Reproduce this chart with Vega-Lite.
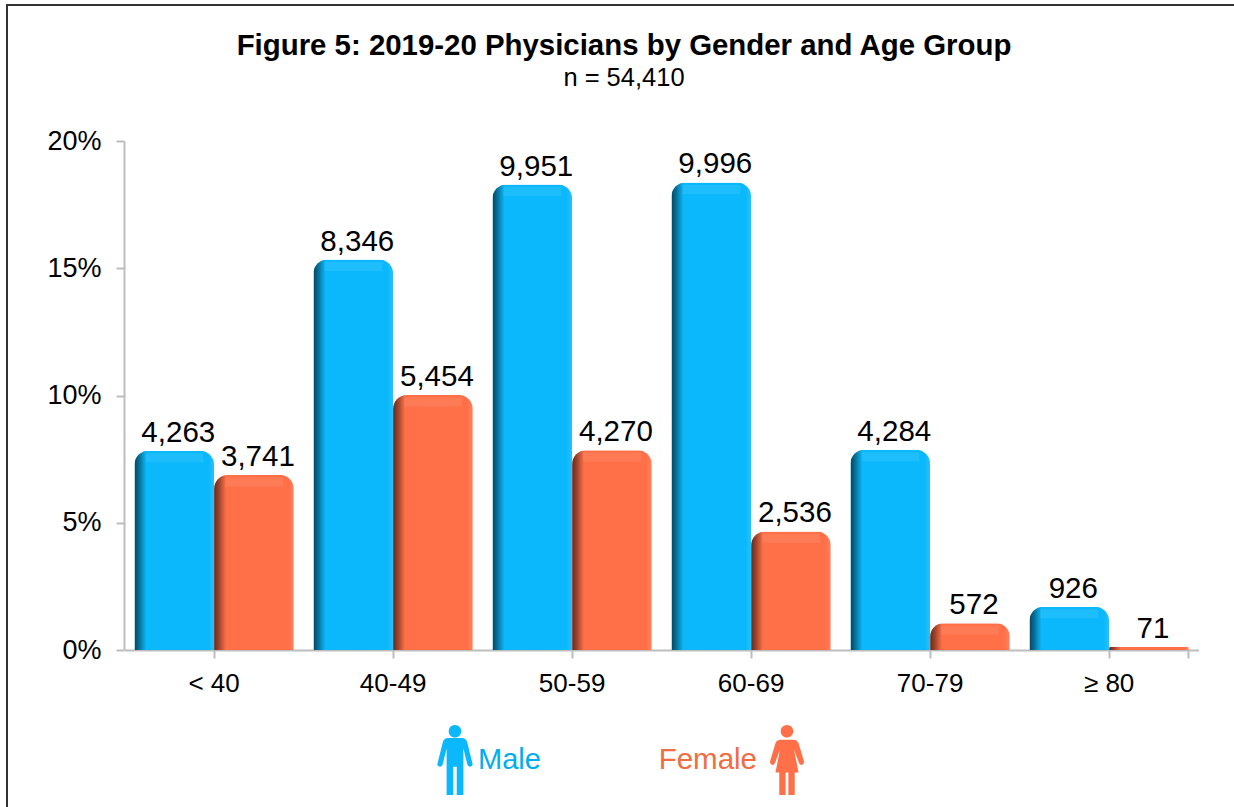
{
"$schema":"https://vega.github.io/schema/vega-lite/v6.json",
"width":1240,"height":815,
"autosize":{"type":"none"},
"padding":{"left":7,"top":5,"right":0,"bottom":0},
"background":"white",
"title":{"text":"Figure 5: 2019-20 Physicians by Gender and Age Group","subtitle":"n = 54,410","anchor":"middle","orient":"top","offset":-87,"dx":-3,"font":"Liberation Sans","fontSize":29.4,"fontWeight":"bold","color":"#000000","subtitleFont":"Liberation Sans","subtitleFontSize":25.5,"subtitleColor":"#000000","subtitlePadding":4},
"config":{"view":{"stroke":"#333333","strokeWidth":2},"font":"Liberation Sans"},
"datasets":{"rows":[
{"age":"< 40","gender":"Male","count":4263,"pct":0.0783},
{"age":"< 40","gender":"Female","count":3741,"pct":0.0688},
{"age":"40-49","gender":"Male","count":8346,"pct":0.1534},
{"age":"40-49","gender":"Female","count":5454,"pct":0.1002},
{"age":"50-59","gender":"Male","count":9951,"pct":0.1829},
{"age":"50-59","gender":"Female","count":4270,"pct":0.0785},
{"age":"60-69","gender":"Male","count":9996,"pct":0.1837},
{"age":"60-69","gender":"Female","count":2536,"pct":0.0466},
{"age":"70-79","gender":"Male","count":4284,"pct":0.0787},
{"age":"70-79","gender":"Female","count":572,"pct":0.0105},
{"age":"≥ 80","gender":"Male","count":926,"pct":0.0170},
{"age":"≥ 80","gender":"Female","count":71,"pct":0.0013}
]},
"data":{"name":"rows"},
"encoding":{
"x":{"field":"age","type":"nominal","sort":null,"title":null,
"scale":{"domain":["< 40","40-49","50-59","60-69","70-79","≥ 80"],"range":[117.6,1191.6],"paddingInner":0.11,"paddingOuter":0.055},
"axis":null},
"xOffset":{"field":"gender","type":"nominal","scale":{"domain":["Male","Female"],"paddingInner":0,"paddingOuter":0}},
"y":{"field":"pct","type":"quantitative","title":null,
"scale":{"domain":[0,0.2],"range":[645,136],"nice":false},
"axis":{"orient":"left","offset":-117,"values":[0,0.05,0.1,0.15,0.2],"format":".0%","labelFontSize":27,"labelFont":"Liberation Sans","labelColor":"#000000","labelPadding":15,"domainColor":"#bdbdbd","domainWidth":2,"tickColor":"#bdbdbd","tickWidth":2,"tickSize":8,"grid":false}}
},
"layer":[
{"transform":[{"filter":"datum.gender==='Male'"}],
"mark":{"type":"bar","cornerRadiusTopLeft":14,"cornerRadiusTopRight":14},
"encoding":{
"x":{"field":"age","type":"nominal","sort":null,"title":null,
"axis":{"orient":"bottom","offset":-170,"bandPosition":0.5,"labelAngle":0,"labelFontSize":26,"labelFont":"Liberation Sans","labelColor":"#000000","labelPadding":12,"labelBound":false,"labelFlush":false,"domainColor":"#bdbdbd","domainWidth":2,"tickColor":"#bdbdbd","tickWidth":2,"tickSize":8,"grid":false,"labelOverlap":false}},
"color":{"field":"gender","type":"nominal",
"scale":{"domain":["Male"],"range":["#0bb8fb"]},
"legend":{"orient":"none","legendX":413,"legendY":720,"title":null,"symbolType":"M-.2,-.63 L.2,-.63 Q.32,-.63 .35,-.5 L.5,.1 Q.52,.18 .43,.19 Q.38,.2 .35,.12 L.24,-.33 L.24,1 L.05,1 L.05,.19 L-.05,.19 L-.05,1 L-.24,1 L-.24,-.33 L-.35,.12 Q-.38,.2 -.43,.19 Q-.52,.18 -.5,.1 L-.35,-.5 Q-.32,-.63 -.2,-.63 Z M-.18,-.82 A.18,.18 0 1 1 .18,-.82 A.18,.18 0 1 1 -.18,-.82 Z","symbolSize":4900,"symbolFillColor":"#00aeef","symbolStrokeWidth":0,"symbolOpacity":1,"labelFontSize":29,"labelColor":"#00aeef","labelFont":"Liberation Sans","labelOffset":-12}}}},
{"transform":[{"filter":"datum.gender==='Female'"}],
"mark":{"type":"bar","cornerRadiusTopLeft":14,"cornerRadiusTopRight":14},
"encoding":{"color":{"field":"gender","type":"nominal",
"scale":{"domain":["Female"],"range":["#ff7048"]},
"legend":{"orient":"none","legendX":745,"legendY":720,"title":null,"symbolType":"M-.18,-.58 L.18,-.58 Q.3,-.58 .33,-.48 L.48,.02 Q.5,.12 .42,.14 Q.36,.15 .34,.08 L.2,-.3 L.33,.36 L.22,.36 L.22,1 L.04,1 L.04,.36 L-.04,.36 L-.04,1 L-.22,1 L-.22,.36 L-.33,.36 L-.2,-.3 L-.34,.08 Q-.36,.15 -.42,.14 Q-.5,.12 -.48,.02 L-.33,-.48 Q-.3,-.58 -.18,-.58 Z M-.18,-.82 A.18,.18 0 1 1 .18,-.82 A.18,.18 0 1 1 -.18,-.82 Z","symbolSize":4900,"symbolFillColor":"#f26b43","symbolStrokeWidth":0,"symbolOpacity":1,"labelFontSize":29.5,"labelColor":"#f26b43","labelFont":"Liberation Sans","labelAlign":"right","labelOffset":-65}}}},
{"mark":{"type":"bar","cornerRadiusTopLeft":14,"cornerRadiusTopRight":14,
"fill":{"gradient":"linear","x1":0,"y1":0,"x2":1,"y2":0,"stops":[{"offset":0,"color":"rgba(0,0,0,0.62)"},{"offset":0.06,"color":"rgba(0,0,0,0.4)"},{"offset":0.15,"color":"rgba(0,0,0,0)"},{"offset":0.93,"color":"rgba(255,255,255,0)"},{"offset":1,"color":"rgba(255,255,255,0.12)"}]}}},
{"transform":[{"filter":"datum.pct>0.005"}],
"mark":{"type":"tick","color":"#ffffff","opacity":0.08,"size":58,"thickness":9,"yOffset":7}},
{"mark":{"type":"text","font":"Liberation Sans","fontSize":29.5,"color":"#000000","baseline":"bottom","dy":-3,"dx":4},
"encoding":{"text":{"field":"count","type":"quantitative","format":","},
"x":{"field":"age","type":"nominal","sort":null,"title":null,
"axis":{"orient":"bottom","offset":-170,"bandPosition":1,"values":["≥ 80"],"labels":false,"domain":false,"tickColor":"#bdbdbd","tickWidth":2,"tickSize":8,"grid":false}}}}
],
"resolve":{"scale":{"color":"independent"},"axis":{"x":"independent"}}
}
